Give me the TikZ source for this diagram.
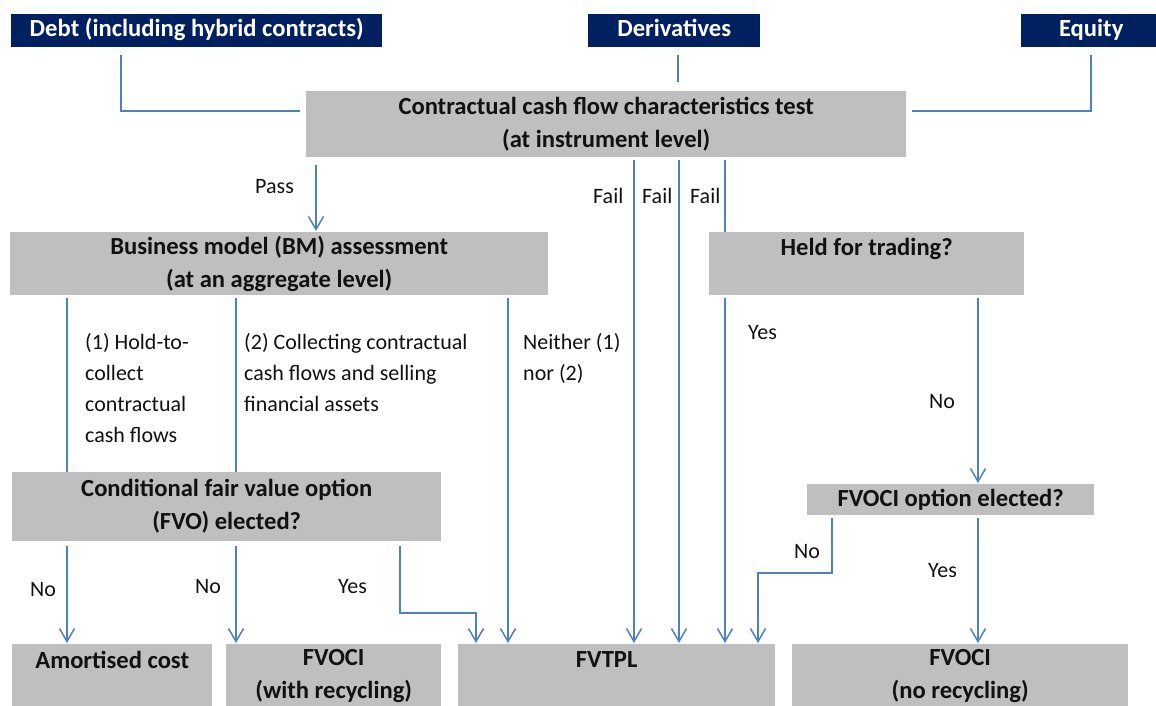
\documentclass[tikz,border=0pt]{standalone}
\usepackage{fontspec}
\setmainfont{Carlito}
\usetikzlibrary{arrows.meta}
\definecolor{navy}{HTML}{002060}
\definecolor{boxgray}{HTML}{BFBFBF}
\definecolor{lineblue}{HTML}{4F81BD}
\definecolor{txt}{HTML}{111111}
\tikzset{
  navybox/.style={fill=navy, text=white, anchor=north west, inner sep=0pt, align=center,
    text height=17pt, text depth=6pt,
    font=\bfseries\fontsize{24.6}{33}\selectfont},
  graybox/.style={fill=boxgray, text=txt, anchor=north west, inner sep=0pt, align=center,
    font=\bfseries\fontsize{24.6}{33}\selectfont},
  lbl/.style={anchor=base west, inner sep=0pt, align=left, text=txt,
    font=\fontsize{22}{31}\selectfont},
  ln/.style={draw=lineblue, line width=1.5pt},
  arr/.style={ln, -{Straight Barb[length=13pt,width=15pt,line width=1.5pt]}, shorten >=1pt},
}
\begin{document}
\begin{tikzpicture}[x=1pt,y=-1pt]
\useasboundingbox (0,0) rectangle (1156,706);
% boxes
\node[navybox, minimum width=371pt, minimum height=33pt] (debt) at (11,14) {Debt (including hybrid contracts)};
\node[navybox, minimum width=172pt, minimum height=33pt] (deriv) at (588,14) {Derivatives};
\node[navybox, minimum width=140pt, minimum height=33pt] (equity) at (1021,14) {Equity};
\node[graybox, minimum width=600pt, minimum height=66pt] (contract) at (306,91) {Contractual cash flow characteristics test\\(at instrument level)};
\node[graybox, minimum width=538pt, minimum height=63pt] (bm) at (10,232) {Business model (BM) assessment\\(at an aggregate level)};
\node[graybox, minimum width=315pt, minimum height=63pt] (hft) at (709,232) {Held for trading?\\\mbox{}};
\node[graybox, minimum width=429pt, minimum height=69pt] (cfvo) at (12,472) {Conditional fair value option\\(FVO) elected?};
\node[graybox, minimum width=287pt, minimum height=31pt] (fvociopt) at (807,484) {FVOCI option elected?};
\node[graybox, minimum width=200pt, minimum height=64pt] (amort) at (12,644) {Amortised cost\\\mbox{}};
\node[graybox, minimum width=215pt, minimum height=64pt] (fvocir) at (226,644) {FVOCI\\(with recycling)};
\node[graybox, minimum width=317pt, minimum height=64pt] (fvtpl) at (458,644) {FVTPL\hspace*{20pt}\\\mbox{}};
\node[graybox, minimum width=336pt, minimum height=64pt] (fvocin) at (792,644) {FVOCI\\(no recycling)};
% lane coordinates
\coordinate (xdebt) at (121,111);
\coordinate (xder) at (678,0);
\coordinate (xeq) at (1091,111);
\coordinate (xpass) at (316,0);
\coordinate (xf1) at (634,0);
\coordinate (xf2) at (679,0);
\coordinate (xf3) at (725,0);
\coordinate (xl1) at (67,0);
\coordinate (xl2) at (236,0);
\coordinate (xn) at (508,0);
\coordinate (xno) at (978,0);
\coordinate (yes1) at (400,613);
\coordinate (yes2) at (476,613);
\coordinate (no1) at (832,573);
\coordinate (no2) at (758,573);
\coordinate (cl) at (300,111);
\coordinate (cr) at (912,111);
% top connectors
\draw[ln] ([yshift=-8pt]debt.south -| xdebt) -- (xdebt) -- (cl);
\draw[ln, shorten <=8pt, shorten >=9pt] (deriv.south -| xder) -- (contract.north -| xder);
\draw[ln] ([yshift=-8pt]equity.south -| xeq) -- (xeq) -- (cr);
% pass and fail
\draw[arr, shorten <=8pt] (contract.south -| xpass) -- (bm.north -| xpass);
\draw[arr, shorten <=3pt] (contract.south -| xf1) -- (fvtpl.north -| xf1);
\draw[arr, shorten <=3pt] (contract.south -| xf2) -- (fvtpl.north -| xf2);
\draw[ln, shorten <=3pt] (contract.south -| xf3) -- (hft.north -| xf3);
\draw[arr, shorten <=3pt] (hft.south -| xf3) -- (fvtpl.north -| xf3);
% business model
\draw[ln, shorten <=3pt] (bm.south -| xl1) -- (cfvo.north -| xl1);
\draw[ln, shorten <=3pt] (bm.south -| xl2) -- (cfvo.north -| xl2);
\draw[arr, shorten <=3pt] (bm.south -| xn) -- (fvtpl.north -| xn);
% held for trading
\draw[arr, shorten <=3pt] (hft.south -| xno) -- (fvociopt.north -| xno);
% conditional FVO
\draw[arr, shorten <=5pt] (cfvo.south -| xl1) -- (amort.north -| xl1);
\draw[arr, shorten <=5pt] (cfvo.south -| xl2) -- (fvocir.north -| xl2);
\draw[arr, shorten <=5pt] (cfvo.south -| yes1) -- (yes1) -- (yes2) -- (fvtpl.north -| yes2);
% FVOCI option
\draw[arr, shorten <=3pt] (fvociopt.south -| no1) -- (no1) -- (no2) -- (fvtpl.north -| no2);
\draw[arr, shorten <=3pt] (fvociopt.south -| xno) -- (fvocin.north -| xno);
% labels (base = last line baseline)
\node[lbl] (lpass) at (255,193) {Pass};
\node[lbl] (lf1) at (593,203) {Fail};
\node[lbl] (lf2) at (642,203) {Fail};
\node[lbl] (lf3) at (690,203) {Fail};
\node[lbl] (lhtc) at (85,442) {(1) Hold-to-\\collect\\contractual\\cash flows};
\node[lbl] (lcs) at (244,411) {(2) Collecting contractual\\cash flows and selling\\financial assets};
\node[lbl] (lneither) at (523,380) {Neither (1)\\nor (2)};
\node[lbl] (lyes1) at (748,339) {Yes};
\node[lbl] (lno1) at (929,408) {No};
\node[lbl] (lno2) at (30,596) {No};
\node[lbl] (lno3) at (195,593) {No};
\node[lbl] (lyes2) at (338,593) {Yes};
\node[lbl] (lno4) at (794,558) {No};
\node[lbl] (lyes3) at (928,577) {Yes};
\end{tikzpicture}
\end{document}
